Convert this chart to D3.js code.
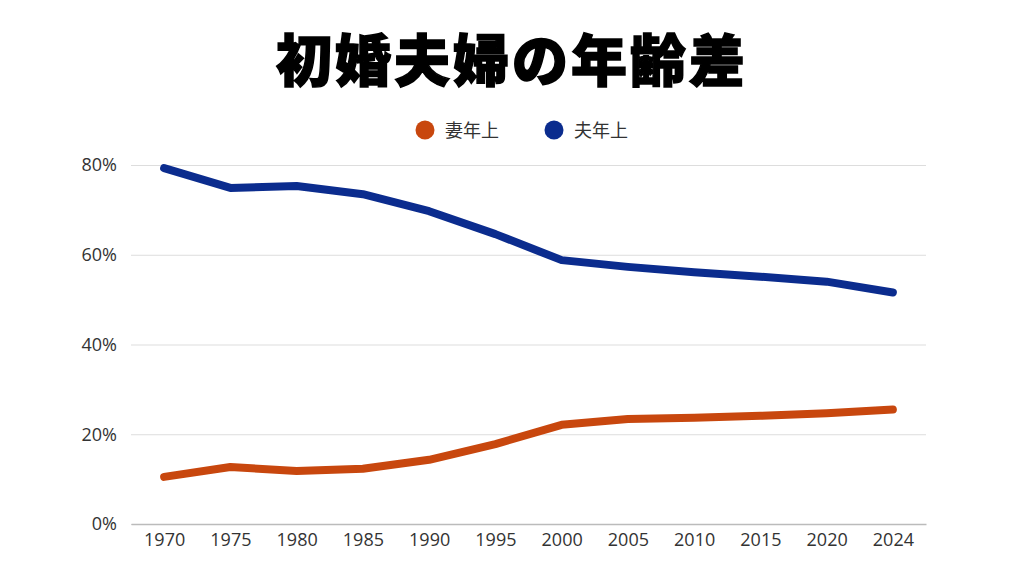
<!DOCTYPE html>
<html>
<head>
<meta charset="utf-8">
<script src="https://cdn.jsdelivr.net/npm/d3@7"></script>
<style>
  body { margin: 0; background: #fff; }
  svg { display: block; }
  .tick text { font-family: "Open Sans", "Noto Sans", sans-serif; font-size: 18px; fill: #333; }
</style>
</head>
<body>
<div id="chart"></div>
<script>
const years = ['1970', '1975', '1980', '1985', '1990', '1995', '2000', '2005', '2010', '2015', '2020', '2024']
const wifeOlder = [10.5, 12.7, 11.8, 12.3, 14.3, 17.8, 22.1, 23.4, 23.7, 24.1, 24.7, 25.5]
const husbandOlder = [79.3, 74.9, 75.3, 73.5, 69.7, 64.6, 58.8, 57.3, 56.1, 55.1, 54.0, 51.6]
const yTicks = [0, 20, 40, 60, 80]
const seriesNames = ['妻年上', '夫年上']
const seriesColors = ['#C8470E', '#0B2C8E']

const canvasWidth = 1024
const canvasHeight = 576
const margins = {top: 165, right: 98, bottom: 52, left: 131}
const width = canvasWidth - margins.left - margins.right
const height = canvasHeight - margins.top - margins.bottom

const svg = d3
  .select('#chart')
  .append('svg')
  .attr('width', canvasWidth)
  .attr('height', canvasHeight)

svg
  .append('text')
  .attr('x', canvasWidth / 2)
  .attr('y', 81)
  .attr('text-anchor', 'middle')
  .attr('font-family', '"Noto Sans CJK JP", sans-serif')
  .attr('font-weight', 900)
  .attr('font-size', 56)
  .attr('letter-spacing', 3)
  .attr('stroke', '#000')
  .attr('stroke-width', 1.5)
  .attr('fill', '#000')
  .text('初婚夫婦の年齢差')

// legend
const legendX = [425, 554]
seriesNames.forEach((name, i) => {
  const g = svg.append('g').attr('transform', `translate(${legendX[i]}, 130)`)
  g.append('circle').attr('r', 9.5).attr('fill', seriesColors[i])
  g.append('text')
    .attr('x', 20)
    .attr('y', 6.5)
    .attr('font-family', '"Noto Sans CJK JP", sans-serif')
    .attr('font-size', 18)
    .attr('fill', '#333')
    .text(name)
})

const chart = svg.append('g').attr('transform', `translate(${margins.left}, ${margins.top})`)

const xScale = d3.scalePoint().domain(years).range([0, width]).padding(0.5)
const yScale = d3.scaleLinear().domain([0, 80]).range([height, 0])

// gridlines
chart
  .append('g')
  .call(d3.axisLeft(yScale).tickValues(yTicks).tickSize(-width).tickFormat(''))
  .call(g => g.select('.domain').remove())
  .call(g => g.selectAll('.tick line').attr('stroke', '#ddd').attr('stroke-width', 1))

chart
  .append('g')
  .call(d3.axisLeft(yScale).tickValues(yTicks).tickSize(0).tickPadding(14).tickFormat(d => d + '%'))
  .call(g => g.select('.domain').remove())

chart
  .append('g')
  .attr('transform', `translate(0, ${height})`)
  .call(d3.axisBottom(xScale).tickSize(0).tickPadding(9))
  .call(g => g.select('.domain').attr('stroke', '#bbb').attr('stroke-width', 1.5))

const line = d3
  .line()
  .x((d, i) => xScale(years[i]))
  .y(d => yScale(d))

;[wifeOlder, husbandOlder].forEach((values, i) => {
  chart
    .append('path')
    .datum(values)
    .attr('d', line)
    .attr('fill', 'none')
    .attr('stroke', seriesColors[i])
    .attr('stroke-width', 8)
    .attr('stroke-linecap', 'round')
    .attr('stroke-linejoin', 'round')
})
</script>
</body>
</html>
